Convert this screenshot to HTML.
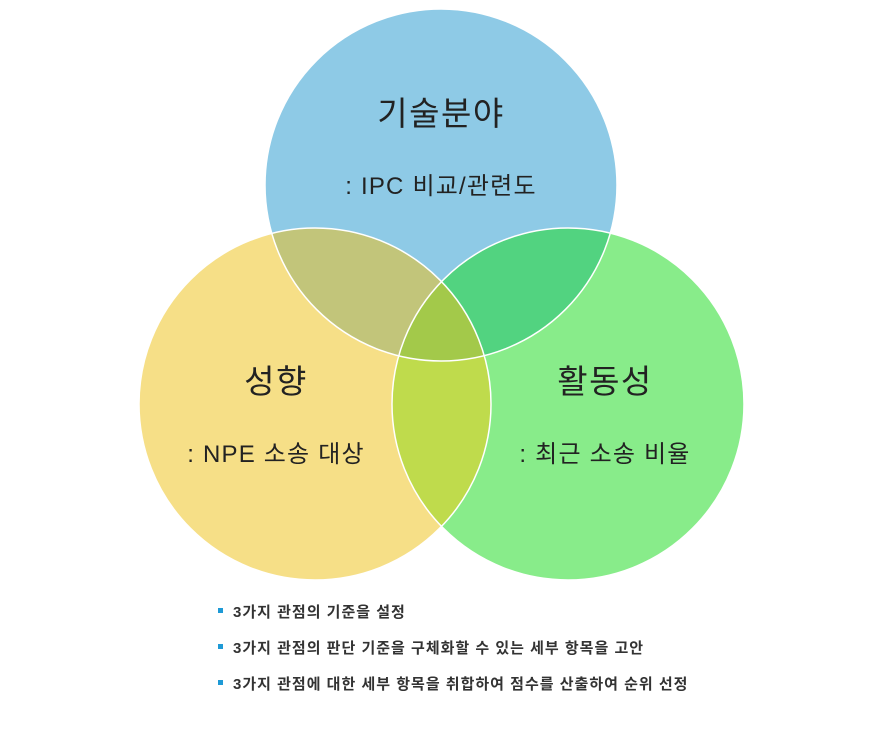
<!DOCTYPE html>
<html><head><meta charset="utf-8"><style>
body{margin:0;background:#fff;width:882px;height:725px;overflow:hidden}
svg text{font-family:"Liberation Sans","Noto Sans CJK KR",sans-serif}
</style></head><body>
<svg width="882" height="725" viewBox="0 0 882 725">
<defs>
<clipPath id="cb"><circle cx="441" cy="185" r="176"/></clipPath>
<clipPath id="cy"><circle cx="315" cy="404" r="176"/></clipPath>
<clipPath id="cg"><circle cx="568" cy="404" r="176"/></clipPath>
</defs>
<circle cx="441" cy="185" r="176" fill="#8ecae6"/>
<circle cx="315" cy="404" r="176" fill="#f6df87"/>
<circle cx="568" cy="404" r="176" fill="#88ec8a"/>
<g clip-path="url(#cb)"><circle cx="315" cy="404" r="176" fill="#c2c57a"/><circle cx="568" cy="404" r="176" fill="#52d380"/></g>
<g clip-path="url(#cy)"><circle cx="568" cy="404" r="176" fill="#bfdb4c"/></g>
<g clip-path="url(#cb)"><g clip-path="url(#cy)"><circle cx="568" cy="404" r="176" fill="#a3c94a"/></g></g>
<g fill="none" stroke="#fff" stroke-width="1.5">
<circle cx="441" cy="185" r="176"/><circle cx="315" cy="404" r="176"/><circle cx="568" cy="404" r="176"/>
</g>
<g fill="#222" text-anchor="middle">
<text x="441" y="125" font-size="33" letter-spacing="1.5">기술분야</text>
<text x="441" y="194" font-size="24" letter-spacing="1.2">: IPC 비교/관련도</text>
<text x="276" y="393" font-size="33" letter-spacing="1.5">성향</text>
<text x="276" y="462" font-size="24" letter-spacing="1.2">: NPE 소송 대상</text>
<text x="605" y="393" font-size="33" letter-spacing="1.5">활동성</text>
<text x="605" y="462" font-size="24" letter-spacing="1.2">: 최근 소송 비율</text>
</g>
<g fill="#1e9ad6"><rect x="218" y="608" width="5" height="5"/><rect x="218" y="644" width="5" height="5"/><rect x="218" y="680" width="5" height="5"/></g>
<g fill="#333" font-size="15" font-weight="bold" letter-spacing="1">
<text x="233" y="617">3가지 관점의 기준을 설정</text>
<text x="233" y="653">3가지 관점의 판단 기준을 구체화할 수 있는 세부 항목을 고안</text>
<text x="233" y="689">3가지 관점에 대한 세부 항목을 취합하여 점수를 산출하여 순위 선정</text>
</g>
</svg>
</body></html>
